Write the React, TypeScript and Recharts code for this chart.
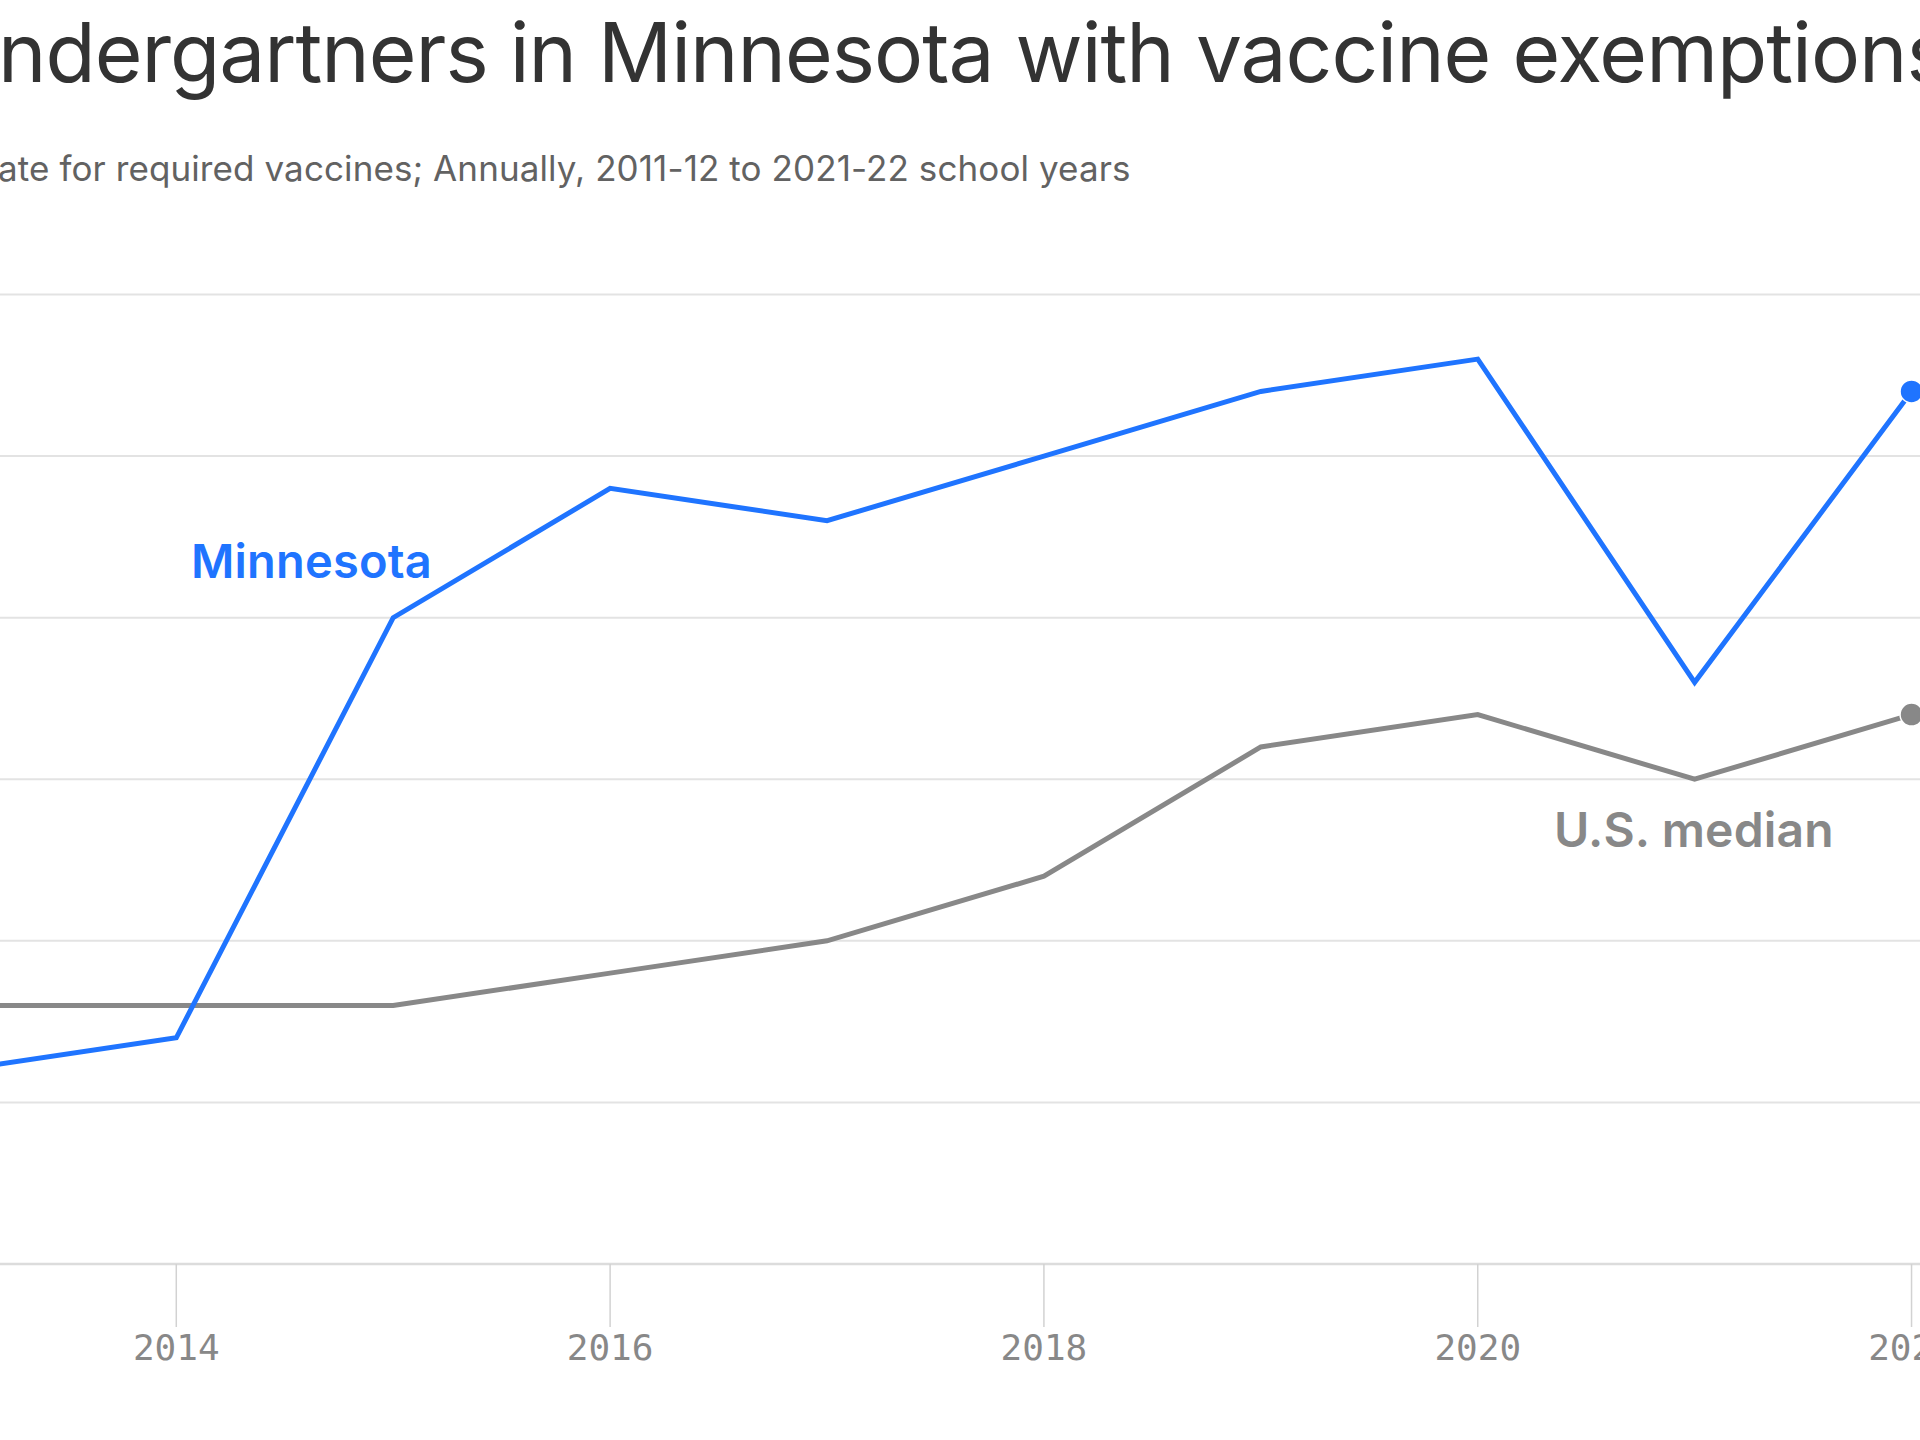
import React from "react";
import { LineChart, Line, XAxis, YAxis, CartesianGrid } from "recharts";

const years = [2013, 2014, 2015, 2016, 2017, 2018, 2019, 2020, 2021, 2022];
const minnesota = [1.2, 1.4, 4.0, 4.8, 4.6, 5.0, 5.4, 5.6, 3.6, 5.4];
const usMedian = [1.6, 1.6, 1.6, 1.8, 2.0, 2.4, 3.2, 3.4, 3.0, 3.4];
const xTicks = [2014, 2016, 2018, 2020, 2022];
const yTicks = [0, 1, 2, 3, 4, 5, 6];

const titlePrefix = "Share of ki";
const titleText = "ndergartners in Minnesota with vaccine exemptions";
const subtitlePrefix = "Exemption r";
const subtitleText = "ate for required vaccines; Annually, 2011-12 to 2021-22 school years";

const BLUE = "#1f74ff";
const GRAY = "#888888";

const data = years.map((y, i) => ({ year: y, mn: minnesota[i], us: usMedian[i] }));
const lastIndex = years.length - 1;

const makeDot = (color: string) => (props: any) => {
  const { cx, cy, index } = props;
  if (index !== lastIndex) return <g key={`d-${index}`} />;
  return (
    <circle key={`d-${index}`} cx={cx} cy={cy} r={11.5} fill={color} stroke="#ffffff" strokeWidth={1.5} />
  );
};

const BASE = 0.864; // Inter baseline offset within a 1em line box

export default function App() {
  return (
    <div
      style={{
        position: "fixed",
        left: 0,
        top: 0,
        width: 1920,
        height: 1440,
        overflow: "hidden",
        background: "#ffffff",
        fontFamily: "Inter, 'Noto Sans', sans-serif",
      }}
    >
      <div
        style={{
          position: "absolute",
          left: -2,
          top: 83 - 82 * BASE,
          fontSize: 82,
          lineHeight: "82px",
          color: "#333333",
          whiteSpace: "nowrap",
          letterSpacing: -1,
        }}
      >
        <span style={{ position: "absolute", right: "100%", top: 0 }}>{titlePrefix}</span>
        {titleText}
      </div>
      <div
        style={{
          position: "absolute",
          left: -2,
          top: 181 - 35 * BASE,
          fontSize: 35,
          lineHeight: "35px",
          color: "#626262",
          whiteSpace: "nowrap",
          letterSpacing: 0.1,
        }}
      >
        <span style={{ position: "absolute", right: "100%", top: 0 }}>{subtitlePrefix}</span>
        {subtitleText}
      </div>

      <div style={{ position: "absolute", left: -84, top: 0 }}>
        <LineChart
          width={2104}
          height={1384}
          data={data}
          margin={{ top: 294.5, right: 0, bottom: 0, left: 0 }}
        >
          <CartesianGrid vertical={false} stroke="#e3e3e3" strokeWidth={2} />
          <XAxis
            dataKey="year"
            type="number"
            domain={[2012.8, 2022.5]}
            ticks={xTicks}
            allowDataOverflow
            height={120}
            tickSize={63}
            tickMargin={7}
            axisLine={{ stroke: "#dcdcdc", strokeWidth: 2.5 }}
            tickLine={{ stroke: "#d2d2d2", strokeWidth: 1.5 }}
            tick={{ fill: "#888888", fontSize: 36, fontFamily: "'DejaVu Sans Mono', monospace" }}
          />
          <YAxis hide type="number" domain={[0, 6]} ticks={yTicks} />
          <Line
            type="linear"
            dataKey="us"
            stroke={GRAY}
            strokeWidth={5}
            dot={makeDot(GRAY)}
            activeDot={false}
            isAnimationActive={false}
          />
          <Line
            type="linear"
            dataKey="mn"
            stroke={BLUE}
            strokeWidth={5}
            dot={makeDot(BLUE)}
            activeDot={false}
            isAnimationActive={false}
          />
        </LineChart>
      </div>

      <div
        style={{
          position: "absolute",
          left: 191,
          top: 578 - 47 * BASE,
          fontSize: 47,
          lineHeight: "47px",
          fontWeight: 600,
          color: BLUE,
          whiteSpace: "nowrap",
          letterSpacing: 0.2,
        }}
      >
        Minnesota
      </div>
      <div
        style={{
          position: "absolute",
          left: 1554,
          top: 847 - 48 * BASE,
          fontSize: 48,
          lineHeight: "48px",
          fontWeight: 600,
          color: GRAY,
          whiteSpace: "nowrap",
          letterSpacing: 0.2,
        }}
      >
        U.S. median
      </div>
    </div>
  );
}
